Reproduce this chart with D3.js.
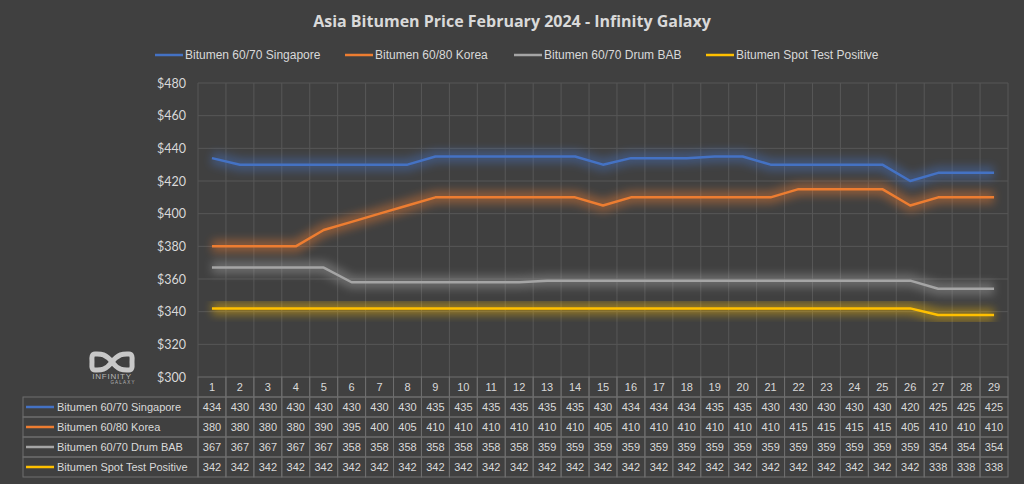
<!DOCTYPE html>
<html><head><meta charset="utf-8">
<script src="https://cdn.jsdelivr.net/npm/d3@7"></script>
<style>
html,body{margin:0;padding:0;background:#404040;}
svg{display:block;}
</style></head>
<body>
<svg id="chart" width="1024" height="484"></svg>
<script>
const days = d3.range(1, 30).map(String);
const singapore = [434,430,430,430,430,430,430,430,435,435,435,435,435,435,430,434,434,434,435,435,430,430,430,430,430,420,425,425,425];
const korea     = [380,380,380,380,390,395,400,405,410,410,410,410,410,410,405,410,410,410,410,410,410,415,415,415,415,405,410,410,410];
const drumBAB   = [367,367,367,367,367,358,358,358,358,358,358,358,359,359,359,359,359,359,359,359,359,359,359,359,359,359,354,354,354];
const spotTest  = [342,342,342,342,342,342,342,342,342,342,342,342,342,342,342,342,342,342,342,342,342,342,342,342,342,342,338,338,338];
const seriesNames = ["Bitumen 60/70 Singapore","Bitumen 60/80 Korea","Bitumen 60/70 Drum BAB","Bitumen Spot Test Positive"];
const yTicks = [300,320,340,360,380,400,420,440,460,480];
const title = "Asia Bitumen Price February 2024 - Infinity Galaxy";

const colors = ["#4472C4","#ED7D31","#A5A5A5","#FFC000"];
const series = [singapore, korea, drumBAB, spotTest].map((v,i)=>({name:seriesNames[i], values:v, color:colors[i]}));

const svg = d3.select("#chart");
const plot = {left:198, right:1008, top:83, bottom:377};
const txt = "#d9d9d9";
const grid = "#575757";
const font = "'Liberation Sans Narrow','Liberation Sans',sans-serif";

const x = d3.scaleBand().domain(days).range([plot.left, plot.right]);
const y = d3.scaleLinear().domain([300,480]).range([plot.bottom, plot.top]);

const defs = svg.append("defs");
series.forEach((s,i)=>{
  const f = defs.append("filter").attr("id","glow"+i).attr("x","-10%").attr("y","-100%").attr("width","120%").attr("height","300%");
  f.append("feGaussianBlur").attr("in","SourceGraphic").attr("stdDeviation",4).attr("result","blur");
  const ct = f.append("feComponentTransfer").attr("in","blur").attr("result","glowA");
  ct.append("feFuncA").attr("type","linear").attr("slope",0.42);
  const m = f.append("feMerge");
  m.append("feMergeNode").attr("in","glowA");
});

svg.append("text").attr("x",512).attr("y",27).attr("text-anchor","middle")
  .attr("fill",txt).attr("font-family","'Open Sans',sans-serif").attr("font-weight","bold")
  .attr("font-size",16).text(title);

const legendX = [155, 345, 514, 706];
series.forEach((s,i)=>{
  const g = svg.append("g").attr("transform",`translate(${legendX[i]},55)`);
  g.append("line").attr("x1",0).attr("x2",28).attr("y1",0).attr("y2",0).attr("stroke",s.color).attr("stroke-width",2.5);
  g.append("text").attr("x",30).attr("y",4).attr("fill",txt).attr("font-family",font).attr("font-size",12).text(s.name);
});

svg.append("g").selectAll("line").data(yTicks.filter(t=>t>300)).join("line")
  .attr("x1",plot.left).attr("x2",plot.right).attr("y1",d=>y(d)).attr("y2",d=>y(d))
  .attr("stroke",grid).attr("stroke-width",1);
const bounds = days.map(d=>x(d)).concat([plot.right]);
svg.append("g").selectAll("line").data(bounds).join("line")
  .attr("x1",d=>d).attr("x2",d=>d).attr("y1",plot.top).attr("y2",plot.bottom)
  .attr("stroke",grid).attr("stroke-width",1);

const yAxis = d3.axisLeft(y).tickValues(yTicks).tickFormat(d=>"$"+d).tickSize(0).tickPadding(12);
const ya = svg.append("g").attr("transform",`translate(${plot.left},0)`).call(yAxis);
ya.select(".domain").remove();
ya.selectAll("text").attr("fill",txt).attr("font-family","'Lato',sans-serif").attr("font-size",12.5);

const line = d3.line().x((d,i)=>x(days[i])+x.bandwidth()/2).y(d=>y(d));
series.forEach((s,i)=>{
  svg.append("path").attr("d",line(s.values)).attr("fill","none").attr("stroke",s.color)
    .attr("stroke-width",13).attr("stroke-linejoin","round").attr("filter",`url(#glow${i})`);
});
series.forEach((s,i)=>{
  svg.append("path").attr("d",line(s.values)).attr("fill","none").attr("stroke",s.color)
    .attr("stroke-width",2.5).attr("stroke-linejoin","round");
});

const tableLeft = 23, rowH = 20, headTop = 377;
const border = "#6e6e6e";
const tfont = "'Liberation Sans',sans-serif";
const tbl = svg.append("g");
tbl.selectAll("rect.h").data(days).join("rect")
  .attr("x",d=>x(d)).attr("y",headTop).attr("width",x.bandwidth()).attr("height",rowH)
  .attr("fill","none").attr("stroke",border);
tbl.selectAll("text.h").data(days).join("text")
  .attr("x",d=>x(d)+x.bandwidth()/2).attr("y",headTop+14).attr("text-anchor","middle")
  .attr("fill",txt).attr("font-family",tfont).attr("font-size",11).text(d=>d);
series.forEach((s,r)=>{
  const top = headTop + rowH*(r+1);
  tbl.append("rect").attr("x",tableLeft).attr("y",top).attr("width",plot.left-tableLeft).attr("height",rowH)
    .attr("fill","none").attr("stroke",border);
  tbl.append("line").attr("x1",tableLeft+3).attr("x2",tableLeft+31).attr("y1",top+rowH/2).attr("y2",top+rowH/2)
    .attr("stroke",s.color).attr("stroke-width",2.5);
  tbl.append("text").attr("x",tableLeft+34).attr("y",top+14).attr("fill",txt)
    .attr("font-family",tfont).attr("font-size",11).text(s.name);
  tbl.append("g").selectAll("rect").data(days).join("rect")
    .attr("x",d=>x(d)).attr("y",top).attr("width",x.bandwidth()).attr("height",rowH)
    .attr("fill","none").attr("stroke",border);
  tbl.append("g").selectAll("text").data(s.values).join("text")
    .attr("x",(d,i)=>x(days[i])+x.bandwidth()/2).attr("y",top+14).attr("text-anchor","middle")
    .attr("fill",txt).attr("font-family",tfont).attr("font-size",11).text(d=>d);
});

// logo
const logo = svg.append("g").attr("transform","translate(112,362)");
logo.append("path")
  .attr("d","M0,0 C-7,-9 -12,-8 -17,-8 C-21,-8 -20,-3 -20,0 C-20,3 -21,8 -17,8 C-12,8 -7,9 0,0 C7,-9 12,-8 17,-8 C21,-8 20,-3 20,0 C20,3 21,8 17,8 C12,8 7,9 0,0 Z")
  .attr("fill","none").attr("stroke","#c8c8c8").attr("stroke-width",5).attr("stroke-linejoin","round");
logo.append("text").attr("x",0).attr("y",17).attr("text-anchor","middle").attr("fill","#b5b5b5")
  .attr("font-family","'Liberation Sans',sans-serif").attr("font-size",8).attr("letter-spacing",0.8).text("INFINITY");
logo.append("text").attr("x",11).attr("y",22).attr("text-anchor","middle").attr("fill","#b5b5b5")
  .attr("font-family","'Liberation Sans',sans-serif").attr("font-size",4.5).attr("letter-spacing",1.2).text("GALAXY");
</script>
</body></html>
